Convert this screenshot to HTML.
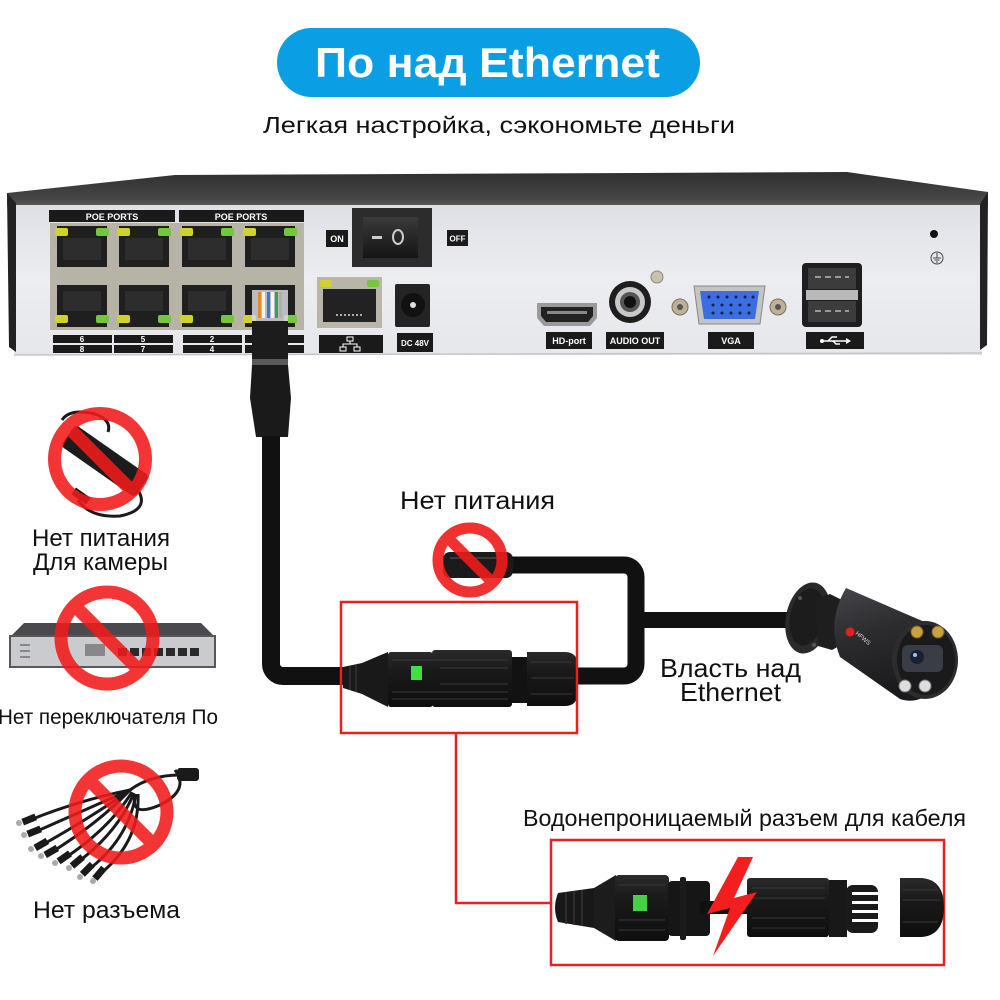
<!DOCTYPE html>
<html><head><meta charset="utf-8">
<style>html,body{margin:0;padding:0;background:#fff}svg{display:block}</style>
</head><body>
<svg width="1000" height="1000" viewBox="0 0 1000 1000" xmlns="http://www.w3.org/2000/svg" font-family="'Liberation Sans', Arial, 'DejaVu Sans', sans-serif">
<defs>
<linearGradient id="lid" x1="0" y1="0" x2="0" y2="1"><stop offset="0" stop-color="#2f2f2f"/><stop offset="0.8" stop-color="#474747"/><stop offset="1" stop-color="#5a5a5a"/></linearGradient>
<linearGradient id="panel" x1="0" y1="0" x2="0" y2="1"><stop offset="0" stop-color="#dfe0e5"/><stop offset="0.5" stop-color="#ecedf1"/><stop offset="1" stop-color="#e6e7eb"/></linearGradient>
<linearGradient id="body" x1="0" y1="0" x2="0.3" y2="1"><stop offset="0" stop-color="#46464a"/><stop offset="0.45" stop-color="#2c2c2f"/><stop offset="1" stop-color="#1a1a1c"/></linearGradient>
<linearGradient id="conn" x1="0" y1="0" x2="0" y2="1"><stop offset="0" stop-color="#2a2a2a"/><stop offset="0.35" stop-color="#1a1a1a"/><stop offset="1" stop-color="#0e0e0e"/></linearGradient>
<linearGradient id="sw" x1="0" y1="0" x2="0" y2="1"><stop offset="0" stop-color="#3a3a3a"/><stop offset="1" stop-color="#151515"/></linearGradient>
</defs>

<!-- Title -->
<rect x="277" y="28" width="423" height="69" rx="34.5" fill="#0a9fe4"/>
<text x="315" y="77" font-size="42" font-weight="bold" fill="#fff" textLength="345" lengthAdjust="spacingAndGlyphs">По над Ethernet</text>
<text x="263" y="133" font-size="23" fill="#111" textLength="472" lengthAdjust="spacingAndGlyphs">Легкая настройка, сэкономьте деньги</text>

<!-- NVR -->
<polygon points="7,193 175,175 847,172 988,192 988,206 7,206" fill="url(#lid)"/>
<rect x="14" y="205" width="968" height="150" fill="url(#panel)"/>
<line x1="14" y1="355" x2="982" y2="353" stroke="#c4c5c9" stroke-width="1.5"/>
<polygon points="7,193 16,203 16,352 9,347" fill="#222"/>
<polygon points="988,192 980,204 980,350 987,345" fill="#222"/>

<!-- POE labels -->
<rect x="49" y="210" width="126" height="12" fill="#1a1a1a"/>
<text x="112" y="220" font-size="9" font-weight="bold" fill="#fff" text-anchor="middle">POE PORTS</text>
<rect x="179" y="210" width="125" height="12" fill="#1a1a1a"/>
<text x="241" y="220" font-size="9" font-weight="bold" fill="#fff" text-anchor="middle">POE PORTS</text>

<!-- Port block -->
<rect x="50" y="223" width="254" height="107" fill="#b7b3a7"/>
<g fill="#1f1f1f">
<rect x="57" y="226" width="50" height="41"/><rect x="119" y="226" width="50" height="41"/><rect x="182" y="226" width="50" height="41"/><rect x="245" y="226" width="50" height="41"/>
<rect x="57" y="285" width="50" height="42"/><rect x="119" y="285" width="50" height="42"/><rect x="182" y="285" width="50" height="42"/><rect x="245" y="285" width="50" height="42"/>
</g>
<g fill="#2d2d2d">
<rect x="63" y="238" width="38" height="22"/><rect x="125" y="238" width="38" height="22"/><rect x="188" y="238" width="38" height="22"/><rect x="251" y="238" width="38" height="22"/>
<rect x="63" y="291" width="38" height="20"/><rect x="125" y="291" width="38" height="20"/><rect x="188" y="291" width="38" height="20"/>
</g>
<g fill="#cfd32a">
<rect x="55" y="228" width="13" height="8" rx="2"/><rect x="117" y="228" width="13" height="8" rx="2"/><rect x="180" y="228" width="13" height="8" rx="2"/><rect x="243" y="228" width="13" height="8" rx="2"/>
<rect x="55" y="315" width="13" height="8" rx="2"/><rect x="117" y="315" width="13" height="8" rx="2"/><rect x="180" y="315" width="13" height="8" rx="2"/><rect x="243" y="315" width="13" height="8" rx="2"/>
</g>
<g fill="#74c63a">
<rect x="96" y="228" width="13" height="8" rx="2"/><rect x="158" y="228" width="13" height="8" rx="2"/><rect x="221" y="228" width="13" height="8" rx="2"/><rect x="284" y="228" width="13" height="8" rx="2"/>
<rect x="96" y="315" width="13" height="8" rx="2"/><rect x="158" y="315" width="13" height="8" rx="2"/><rect x="221" y="315" width="13" height="8" rx="2"/><rect x="284" y="315" width="13" height="8" rx="2"/>
</g>
<!-- number bars -->
<g fill="#1a1a1a">
<rect x="53" y="335" width="59" height="8"/><rect x="114" y="335" width="59" height="8"/><rect x="183" y="335" width="59" height="8"/><rect x="245" y="335" width="59" height="8"/>
<rect x="53" y="345" width="59" height="8"/><rect x="114" y="345" width="59" height="8"/><rect x="183" y="345" width="59" height="8"/><rect x="245" y="345" width="59" height="8"/>
</g>
<g font-size="8" font-weight="bold" fill="#fff" text-anchor="middle">
<text x="82" y="342">6</text><text x="143" y="342">5</text><text x="212" y="342">2</text>
<text x="82" y="352">8</text><text x="143" y="352">7</text><text x="212" y="352">4</text>
</g>

<!-- ON / switch / OFF -->
<rect x="326" y="230" width="22" height="17" fill="#1a1a1a"/>
<text x="337" y="242" font-size="9" font-weight="bold" fill="#fff" text-anchor="middle">ON</text>
<rect x="352" y="208" width="80" height="59" fill="#2c2c2c"/>
<rect x="363" y="217" width="55" height="41" fill="url(#sw)"/>
<rect x="372" y="236" width="10" height="3" fill="#ccc"/>
<ellipse cx="398" cy="237" rx="5" ry="7" fill="none" stroke="#ccc" stroke-width="2"/>
<rect x="447" y="230" width="21" height="16" fill="#1a1a1a"/>
<text x="457.5" y="241.5" font-size="8" font-weight="bold" fill="#fff" text-anchor="middle">OFF</text>

<!-- LAN port -->
<rect x="317" y="277" width="65" height="51" fill="#b9b5a9"/>
<rect x="323" y="289" width="53" height="33" fill="#222"/>
<rect x="320" y="280" width="12" height="7" rx="2" fill="#cfd32a"/>
<rect x="367" y="280" width="12" height="7" rx="2" fill="#74c63a"/>
<line x1="336" y1="315" x2="364" y2="315" stroke="#aaa" stroke-width="2" stroke-dasharray="2,2"/>
<rect x="319" y="335" width="64" height="18" fill="#1a1a1a"/>
<g stroke="#fff" stroke-width="1" fill="none">
<rect x="347" y="337" width="6" height="4"/><rect x="340" y="347" width="6" height="4"/><rect x="354" y="347" width="6" height="4"/>
<path d="M350 341 V344 M343 347 V344 H357 V347"/>
</g>

<!-- DC jack -->
<rect x="395" y="284" width="35" height="43" rx="2" fill="#242424"/>
<circle cx="413" cy="305" r="12" fill="#111"/>
<circle cx="413" cy="305" r="3" fill="#ddd"/>
<rect x="397" y="333" width="36" height="19" fill="#1a1a1a"/>
<text x="415" y="346" font-size="8" font-weight="bold" fill="#fff" text-anchor="middle">DC 48V</text>

<!-- HDMI -->
<polygon points="537,303 597,303 597,318 590,326 544,326 537,318" fill="#9a9a9a"/>
<polygon points="541,307 593,307 593,316 588,322 546,322 541,316" fill="#222"/>
<rect x="547" y="311" width="40" height="3" fill="#888"/>
<rect x="546" y="332" width="46" height="17" fill="#1a1a1a"/>
<text x="569" y="344" font-size="9" font-weight="bold" fill="#fff" text-anchor="middle">HD-port</text>

<!-- Audio -->
<circle cx="630" cy="302" r="21" fill="#1e1e1e"/>
<circle cx="630" cy="302" r="15" fill="#c8c8c8"/>
<circle cx="630" cy="302" r="10" fill="#555"/>
<circle cx="630" cy="302" r="6" fill="#111"/>
<rect x="606" y="332" width="58" height="17" fill="#1a1a1a"/>
<text x="635" y="344" font-size="9" font-weight="bold" fill="#fff" text-anchor="middle">AUDIO OUT</text>
<circle cx="657" cy="277" r="6" fill="#c9c2ad" stroke="#8e8878"/>

<!-- VGA -->
<circle cx="680" cy="307" r="8" fill="#bdb296" stroke="#7a725e"/>
<circle cx="680" cy="307" r="3" fill="#555"/>
<circle cx="778" cy="307" r="8" fill="#bdb296" stroke="#7a725e"/>
<circle cx="778" cy="307" r="3" fill="#555"/>
<polygon points="694,286 765,286 760,324 699,324" fill="#c4c4c4" stroke="#888"/>
<polygon points="700,291 759,291 755,319 704,319" fill="#3b6ee0"/>
<g fill="#14204a">
<circle cx="709" cy="297" r="1.5"/><circle cx="718" cy="297" r="1.5"/><circle cx="727" cy="297" r="1.5"/><circle cx="736" cy="297" r="1.5"/><circle cx="745" cy="297" r="1.5"/><circle cx="753" cy="297" r="1.5"/>
<circle cx="713" cy="305" r="1.5"/><circle cx="722" cy="305" r="1.5"/><circle cx="731" cy="305" r="1.5"/><circle cx="740" cy="305" r="1.5"/><circle cx="749" cy="305" r="1.5"/>
<circle cx="713" cy="313" r="1.5"/><circle cx="722" cy="313" r="1.5"/><circle cx="731" cy="313" r="1.5"/><circle cx="740" cy="313" r="1.5"/><circle cx="749" cy="313" r="1.5"/>
</g>
<rect x="708" y="332" width="46" height="17" fill="#1a1a1a"/>
<text x="731" y="344" font-size="9" font-weight="bold" fill="#fff" text-anchor="middle">VGA</text>

<!-- USB -->
<rect x="802" y="263" width="60" height="64" rx="4" fill="#1e1e1e"/>
<rect x="808" y="268" width="48" height="21" fill="#3c3c3c"/>
<rect x="806" y="290" width="52" height="10" fill="#b9b9b9"/>
<rect x="808" y="301" width="48" height="21" fill="#3c3c3c"/>
<g stroke="#9a9a9a" stroke-width="2"><line x1="815" y1="277" x2="849" y2="277" stroke-dasharray="6,4"/><line x1="815" y1="311" x2="849" y2="311" stroke-dasharray="6,4"/></g>
<rect x="806" y="332" width="58" height="17" fill="#1a1a1a"/>
<g stroke="#fff" stroke-width="1.5" fill="#fff">
<line x1="823" y1="341" x2="846" y2="341"/>
<polygon points="846,338 851,341 846,344" stroke="none"/>
<circle cx="822" cy="341" r="2" stroke="none"/>
<path d="M828 341 L832 337 H837" fill="none"/>
<path d="M833 341 L836 344 H840" fill="none"/>
</g>

<!-- hole & ground -->
<circle cx="934" cy="234" r="4" fill="#111"/>
<circle cx="937" cy="258" r="6" fill="none" stroke="#444" stroke-width="1"/>
<path d="M937 253 V258 M933 258 H941 M934.5 260 H939.5 M936 262 H938" stroke="#444" stroke-width="1"/>

<!-- RJ45 plug and cable -->
<rect x="252" y="290" width="36" height="32" fill="#d8d8d8" opacity="0.85"/>
<rect x="258" y="292" width="3" height="26" fill="#e8872a"/>
<rect x="262" y="292" width="3" height="26" fill="#f4f4f4"/>
<rect x="267" y="292" width="3" height="26" fill="#3a78d8"/>
<rect x="271" y="292" width="3" height="26" fill="#f4f4f4"/>
<rect x="275" y="292" width="3" height="26" fill="#3aa04a"/>
<rect x="279" y="292" width="3" height="26" fill="#b0b0b0"/>
<rect x="252" y="321" width="36" height="40" fill="#1c1c1c"/>
<rect x="252" y="359" width="36" height="6" fill="#5a5a5a"/>
<polygon points="252,365 288,365 291,398 288,437 256,437 250,398" fill="#1a1a1a"/>
<path d="M271 436 V664 A12 12 0 0 0 283 676 H352" fill="none" stroke="#111" stroke-width="18"/>

<!-- right cable loop -->
<path d="M572 676 H624 A12 12 0 0 0 636 664 V577 A12 12 0 0 0 624 565 H500" fill="none" stroke="#111" stroke-width="17"/>
<path d="M636 620 H800" fill="none" stroke="#111" stroke-width="16"/>
<rect x="443" y="552" width="70" height="26" rx="7" fill="#1b1b1b"/>
<line x1="450" y1="558" x2="505" y2="558" stroke="#444" stroke-width="1.5"/>

<!-- Middle no-sign -->
<g stroke="#f01a1a" stroke-width="11" fill="none" opacity="0.9">
<circle cx="470" cy="560" r="32"/>
<line x1="447" y1="537" x2="493" y2="583"/>
</g>
<text x="400" y="509" font-size="25" fill="#111" textLength="155" lengthAdjust="spacingAndGlyphs">Нет питания</text>

<!-- Connector 1 -->
<polygon points="343,667 362,663 388,652 388,707 362,694 343,688" fill="#191919"/>
<g stroke="#333" stroke-width="1.5"><line x1="350" y1="666" x2="350" y2="690"/><line x1="356" y1="665" x2="356" y2="692"/></g>
<rect x="388" y="652" width="45" height="55" rx="3" fill="url(#conn)"/>
<rect x="432" y="650" width="80" height="57" rx="3" fill="url(#conn)"/>
<rect x="512" y="657" width="16" height="46" fill="#121212"/>
<path d="M527 652 H565 Q578 652 578 667 V691 Q578 706 565 706 H527 Z" fill="url(#conn)"/>
<g stroke="#383838" stroke-width="1">
<line x1="392" y1="660" x2="508" y2="660"/><line x1="392" y1="692" x2="508" y2="692"/><line x1="392" y1="699" x2="508" y2="699"/>
<line x1="440" y1="668" x2="508" y2="668"/><line x1="440" y1="684" x2="508" y2="684"/>
<line x1="531" y1="662" x2="572" y2="662"/><line x1="531" y1="678" x2="574" y2="678"/><line x1="531" y1="694" x2="572" y2="694"/>
</g>
<rect x="411" y="666" width="11" height="14" fill="#3de23d"/>

<!-- Red boxes -->
<g fill="none" stroke="#e8211f" stroke-width="2.5">
<rect x="341" y="602" width="236" height="131"/>
<path d="M456 733 V903 H551"/>
<rect x="551" y="840" width="393" height="125"/>
</g>

<!-- Camera -->
<ellipse cx="808" cy="618" rx="22" ry="36" fill="#2a2a2a" transform="rotate(12 808 618)"/>
<ellipse cx="807" cy="617" rx="17" ry="29" fill="#1c1c1c" transform="rotate(12 807 617)"/>
<circle cx="800" cy="598" r="2" fill="#555"/><circle cx="814" cy="645" r="2" fill="#555"/>
<polygon points="815,600 830,594 846,602 850,640 832,650 818,646" fill="#1e1e1e"/>
<path d="M846 588 L920 620 A33 39 0 0 1 900 699 L840 657 Q826 622 846 588 Z" fill="url(#body)"/>
<ellipse cx="925" cy="660" rx="33" ry="39" fill="#2c2c2e"/>
<ellipse cx="926" cy="660" rx="29" ry="35" fill="#1a1a1c"/>
<circle cx="917" cy="632" r="6" fill="#c9a040" stroke="#7a5e1e"/>
<circle cx="938" cy="632" r="6" fill="#c9a040" stroke="#7a5e1e"/>
<rect x="902" y="645" width="41" height="27" rx="6" fill="#3a3d45"/>
<circle cx="917" cy="657" r="7" fill="#1a2035"/>
<circle cx="915" cy="655" r="2" fill="#a0c0ff"/>
<circle cx="905" cy="686" r="6" fill="#ddd" stroke="#777"/>
<circle cx="925" cy="686" r="6" fill="#ddd" stroke="#777"/>
<circle cx="850" cy="632" r="4.5" fill="#e52020"/>
<text x="855" y="634" font-size="6" fill="#ddd" transform="rotate(40 855 634)">HFWS</text>

<text x="660" y="677" font-size="26" fill="#111" textLength="141" lengthAdjust="spacingAndGlyphs">Власть над</text>
<text x="680" y="701" font-size="26" fill="#111" textLength="101" lengthAdjust="spacingAndGlyphs">Ethernet</text>

<!-- Bottom caption -->
<text x="523" y="826" font-size="23" fill="#111" textLength="443" lengthAdjust="spacingAndGlyphs">Водонепроницаемый разъем для кабеля</text>

<!-- Connector 2 -->
<path d="M558 893 L594 888 L594 928 L558 922 Q552 908 558 893 Z" fill="#181818"/>
<g stroke="#333" stroke-width="1.5"><line x1="566" y1="892" x2="566" y2="924"/><line x1="574" y1="891" x2="574" y2="925"/><line x1="582" y1="890" x2="582" y2="926"/></g>
<polygon points="594,888 616,875 616,941 594,928" fill="#1c1c1c"/>
<rect x="615" y="875" width="54" height="66" rx="4" fill="url(#conn)"/>
<g stroke="#383838" stroke-width="1"><line x1="619" y1="885" x2="665" y2="885"/><line x1="619" y1="920" x2="665" y2="920"/><line x1="619" y1="930" x2="665" y2="930"/></g>
<rect x="633" y="895" width="14" height="16" fill="#45d045"/>
<rect x="668" y="881" width="42" height="55" rx="4" fill="#161616"/>
<rect x="680" y="877" width="6" height="63" rx="2" fill="#1b1b1b"/>
<rect x="700" y="901" width="60" height="13" fill="#111"/>
<rect x="747" y="878" width="82" height="59" rx="3" fill="url(#conn)"/>
<g stroke="#383838" stroke-width="1"><line x1="752" y1="888" x2="825" y2="888"/><line x1="752" y1="898" x2="825" y2="898"/><line x1="752" y1="918" x2="825" y2="918"/><line x1="752" y1="928" x2="825" y2="928"/></g>
<rect x="829" y="880" width="18" height="57" fill="#181818"/>
<rect x="846" y="885" width="32" height="48" rx="7" fill="#1a1a1a"/>
<g fill="#fff"><rect x="852" y="892" width="27" height="3"/><rect x="852" y="901" width="27" height="3"/><rect x="852" y="910" width="27" height="3"/><rect x="852" y="919" width="27" height="3"/></g>
<path d="M900 878 H922 Q944 880 944 907 Q944 935 922 937 H900 Z" fill="url(#conn)"/>
<g stroke="#3a3a3a" stroke-width="1"><line x1="903" y1="890" x2="938" y2="890"/><line x1="903" y1="900" x2="940" y2="900"/><line x1="903" y1="922" x2="938" y2="922"/></g>
<polygon points="738,857 707,914 730,908 713,956 757,892 734,898 753,857" fill="#f41e1e"/>

<!-- Left icon 1: power adapter -->
<path d="M62 420 Q70 408 95 414 Q112 420 108 432" fill="none" stroke="#1a1a1a" stroke-width="3"/>
<rect x="-45" y="-13" width="90" height="26" rx="4" fill="#1c1c1c" transform="translate(105 461) rotate(35)"/>
<path d="M138 490 Q150 510 120 516 Q90 518 78 500" fill="none" stroke="#1a1a1a" stroke-width="3"/>
<rect x="72" y="492" width="18" height="8" fill="#1a1a1a" transform="rotate(35 81 496)"/>
<g stroke="#f21a1a" stroke-width="13" fill="none" opacity="0.88">
<circle cx="100" cy="459" r="45.5"/>
<line x1="68" y1="427" x2="132" y2="491"/>
</g>
<text x="32" y="546" font-size="24" fill="#111" textLength="138" lengthAdjust="spacingAndGlyphs">Нет питания</text>
<text x="33" y="570" font-size="24" fill="#111" textLength="135" lengthAdjust="spacingAndGlyphs">Для камеры</text>

<!-- Left icon 2: switch -->
<polygon points="10,637 24,623 201,623 215,637" fill="#4a4a4e"/>
<rect x="10" y="636" width="205" height="31" fill="#c9cbcf" stroke="#58585c" stroke-width="2"/>
<g fill="#2a2a2a">
<rect x="118" y="648" width="9" height="8"/><rect x="130" y="648" width="9" height="8"/><rect x="142" y="648" width="9" height="8"/><rect x="154" y="648" width="9" height="8"/><rect x="166" y="648" width="9" height="8"/><rect x="178" y="648" width="9" height="8"/><rect x="190" y="648" width="9" height="8"/>
</g>
<g fill="#888"><rect x="20" y="644" width="10" height="2"/><rect x="20" y="650" width="10" height="2"/><rect x="20" y="656" width="10" height="2"/><rect x="85" y="644" width="20" height="12"/></g>
<g stroke="#f21a1a" stroke-width="13" fill="none" opacity="0.88">
<circle cx="107" cy="638" r="46"/>
<line x1="75" y1="606" x2="139" y2="670"/>
</g>
<text x="-2" y="724" font-size="21" fill="#111" textLength="220" lengthAdjust="spacingAndGlyphs">Нет переключателя По</text>

<!-- Left icon 3: splitter -->
<g fill="none" stroke="#1a1a1a" stroke-width="3">
<path d="M180 775 Q150 775 130 790"/>
<path d="M130 790 Q80 800 30 820"/>
<path d="M130 790 Q85 810 35 832"/>
<path d="M130 790 Q90 818 42 845"/>
<path d="M130 790 Q100 822 52 852"/>
<path d="M132 792 Q110 828 65 858"/>
<path d="M134 793 Q118 832 78 862"/>
<path d="M136 794 Q128 840 88 870"/>
<path d="M138 794 Q140 842 100 874"/>
<path d="M175 770 Q190 790 160 805 Q130 818 135 795"/>
</g>
<rect x="177" y="768" width="22" height="13" rx="3" fill="#1a1a1a"/>
<g fill="#1a1a1a">
<rect x="22" y="816" width="14" height="7" transform="rotate(-22 29 819)"/>
<rect x="27" y="828" width="14" height="7" transform="rotate(-22 34 831)"/>
<rect x="34" y="841" width="14" height="7" transform="rotate(-30 41 844)"/>
<rect x="44" y="848" width="14" height="7" transform="rotate(-30 51 851)"/>
<rect x="57" y="854" width="14" height="7" transform="rotate(-35 64 857)"/>
<rect x="70" y="858" width="14" height="7" transform="rotate(-40 77 861)"/>
<rect x="80" y="866" width="14" height="7" transform="rotate(-45 87 869)"/>
<rect x="92" y="870" width="14" height="7" transform="rotate(-50 99 873)"/>
</g>
<g fill="#aaa">
<circle cx="19" cy="823" r="3"/><circle cx="24" cy="835" r="3"/><circle cx="31" cy="849" r="3"/><circle cx="41" cy="856" r="3"/><circle cx="55" cy="863" r="3"/><circle cx="69" cy="868" r="3"/><circle cx="80" cy="877" r="3"/><circle cx="93" cy="881" r="3"/>
</g>
<g stroke="#f21a1a" stroke-width="13" fill="none" opacity="0.88">
<circle cx="121" cy="812" r="46"/>
<line x1="89" y1="780" x2="153" y2="844"/>
</g>
<text x="33" y="918" font-size="24" fill="#111" textLength="147" lengthAdjust="spacingAndGlyphs">Нет разъема</text>

</svg>
</body></html>
